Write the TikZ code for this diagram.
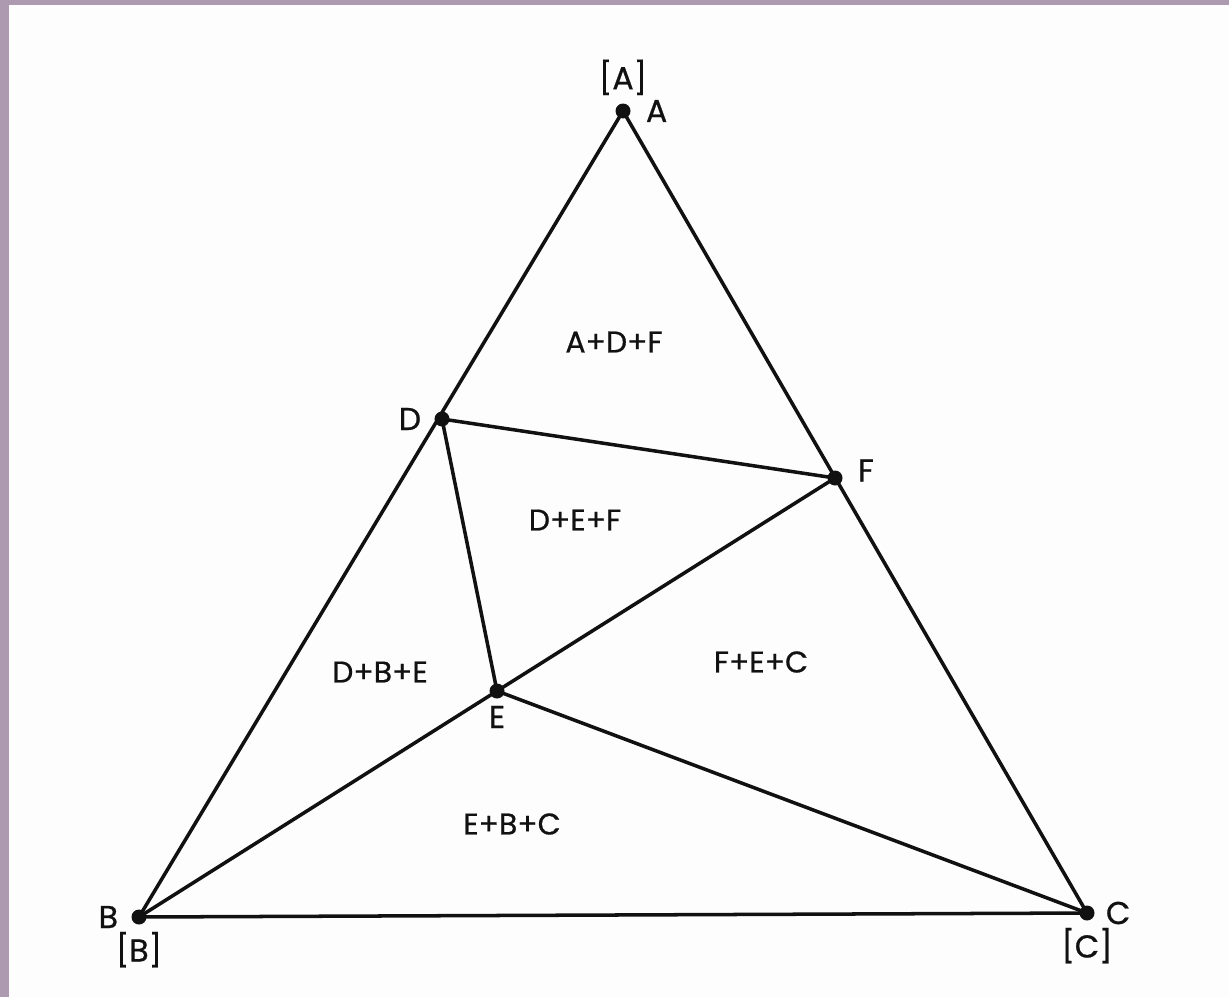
\documentclass[tikz,border=0pt]{standalone}
\usepackage{fontspec}
\setmainfont{Poppins}
\newfontfamily\lblfont{Poppins}[FakeBold=0.7]
\usepackage{tikz}
\usetikzlibrary{positioning,calc}
\definecolor{frame}{HTML}{AE9AB0}
\definecolor{paper}{HTML}{FDFDFD}
\definecolor{ink}{HTML}{111111}
\tikzset{
  pt/.style={circle,fill=ink,inner sep=0pt,minimum size=3mm},
  edge/.style={draw=ink,line width=2pt,line join=round},
  vlbl/.style={font=\lblfont\fontsize{18}{20}\selectfont,text=ink,inner sep=1pt},
  reg/.style={font=\lblfont\fontsize{17}{19}\selectfont,text=ink,inner sep=1pt},
}
\begin{document}
\begin{tikzpicture}[x=0.02cm,y=-0.02cm]
  % page with scanner edge
  \fill[frame] (0,0) rectangle (1229,997);
  \fill[paper] (9,5) rectangle (1229,997);
  \useasboundingbox (0,0) rectangle (1229,997);
  % vertices
  \node[pt] (A) at (623,111) {};
  \node[pt] (B) at (139,917) {};
  \node[pt] (C) at (1087,913) {};
  \node[pt] (D) at (442,419) {};
  \node[pt] (E) at (497,691) {};
  \node[pt] (F) at (835,478) {};
  % triangle and tie lines
  \draw[edge] (A.center) -- (B.center) -- (C.center) -- cycle;
  \draw[edge] (D.center) -- (F.center);
  \draw[edge] (D.center) -- (E.center) -- (F.center);
  \draw[edge] (B.center) -- (E.center) -- (C.center);
  % vertex labels
  \node[vlbl,right=2.6mm of A] {A};
  \node[vlbl,above=1.2mm of A] {[A]};
  \node[vlbl,left=2.2mm of B] {B};
  \node[vlbl,below=1mm of B] {[B]};
  \node[vlbl,right=1.8mm of C] {C};
  \node[vlbl,below=1mm of C] {[C]};
  \node[vlbl,left=2.2mm of D] {D};
  \node[vlbl,below=1mm of E] {E};
  \node[vlbl,right=2.6mm of F,yshift=1.5mm] {F};
  % assemblages
  \node[reg] (adf) at (614,342) {A+D+F};
  \node[reg] (def) at (575,520) {D+E+F};
  \node[reg] (dbe) at (380,672) {D+B+E};
  \node[reg] (fec) at (761,662) {F+E+C};
  \node[reg] (ebc) at (512,824) {E+B+C};
\end{tikzpicture}
\end{document}
